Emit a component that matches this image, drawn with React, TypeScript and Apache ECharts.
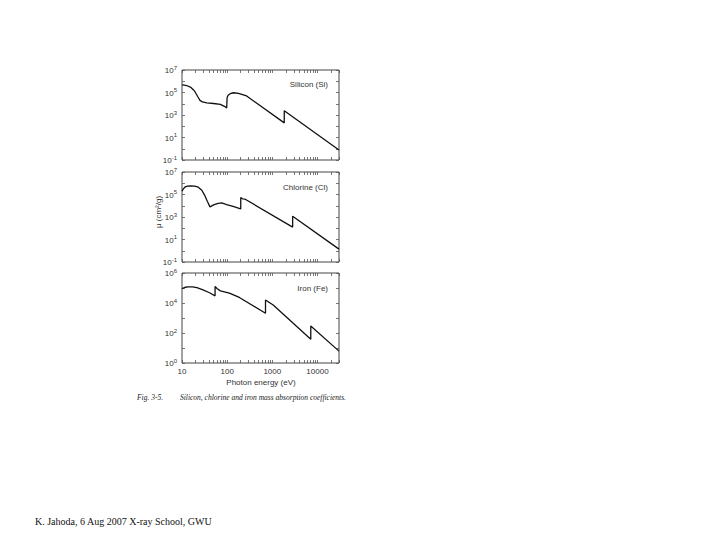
import { useEffect, useRef } from "react";
import * as echarts from "echarts";

// Photon energy (eV) and mass absorption coefficient (cm^2/g)
const SI_ENERGY = [10, 11.2, 12.6, 15.8, 17.8, 19.5, 22.4, 25, 28.2, 35.5, 50, 70.8, 89, 97.7, 99.8, 99.8, 105, 117, 138, 178, 270, 1839, 1839, 30000];
const SI_MU = [468000, 457000, 417000, 282000, 178000, 112000, 41700, 20000, 14800, 12000, 10500, 8700, 5600, 4200, 4000, 35500, 56000, 79000, 95000, 83000, 49000, 200, 2400, 0.78];

const CL_ENERGY = [10, 10.7, 11.7, 13.2, 15.1, 19.1, 22.9, 27.5, 31.6, 36.3, 41.7, 50.1, 63.1, 75.9, 97.7, 141, 191, 200, 200, 219, 251, 2822, 2822, 30000];
const CL_MU = [195000, 316000, 468000, 550000, 575000, 562000, 447000, 240000, 89000, 25000, 7900, 12000, 16600, 17800, 12900, 8300, 5600, 5200, 53700, 41700, 38000, 126, 1175, 1.4];

const FE_ENERGY = [10, 11.7, 13.8, 17, 21.4, 28.2, 39.8, 54, 54, 60.3, 70.8, 112, 186, 707, 707, 1047, 7112, 7112, 30000];
const FE_MU = [91000, 112000, 120000, 120000, 107000, 79000, 50000, 30000, 126000, 89000, 64600, 45700, 23400, 2090, 15800, 7400, 38, 288, 6.2];

const PANEL_TITLES = ["Silicon (Si)", "Chlorine (Cl)", "Iron (Fe)"];

const X_LABELS = [10, 100, 1000, 10000];
const X_TICKS = [10, 20, 30, 40, 50, 60, 70, 80, 90, 100, 200, 300, 400, 500, 600, 700, 800, 900, 1000, 2000, 3000, 4000, 5000, 6000, 7000, 8000, 9000, 10000, 20000, 30000];

const Y_RANGE_SICL = [0.1, 1e7];
const Y_LABELS_SICL = [0.1, 10, 1000, 1e5, 1e7];
const Y_TICKS_SICL = [0.1, 1, 10, 100, 1000, 1e4, 1e5, 1e6, 1e7];
const Y_RANGE_FE = [1, 1e6];
const Y_LABELS_FE = [1, 100, 1e4, 1e6];
const Y_TICKS_FE = [1, 10, 100, 1000, 1e4, 1e5, 1e6];

const X_NAME = "Photon energy (eV)";
const Y_NAME = "μ (cm²/g)";
const CAPTION_A = "Fig. 3-5.";
const CAPTION_B = "Silicon, chlorine and iron mass absorption coefficients.";
const FOOTER = "K. Jahoda, 6 Aug 2007 X-ray School, GWU";

const SANS = "'Liberation Sans', Arial, sans-serif";
const SERIF = "'Liberation Serif', 'Times New Roman', serif";

export default function App() {
  const ref = useRef<HTMLDivElement>(null);

  useEffect(() => {
    if (!ref.current) return;
    const chart = echarts.init(ref.current, undefined, { renderer: "svg" });

    const panels = [
      { e: SI_ENERGY, m: SI_MU, range: Y_RANGE_SICL, labels: Y_LABELS_SICL, ticks: Y_TICKS_SICL },
      { e: CL_ENERGY, m: CL_MU, range: Y_RANGE_SICL, labels: Y_LABELS_SICL, ticks: Y_TICKS_SICL },
      { e: FE_ENERGY, m: FE_MU, range: Y_RANGE_FE, labels: Y_LABELS_FE, ticks: Y_TICKS_FE },
    ];
    const tops = [70, 172, 273];
    const left = 182;
    const width = 157;
    const height = 90;

    const grid: any[] = [];
    const xAxis: any[] = [];
    const yAxis: any[] = [];
    const series: any[] = [];

    const tickStyle = { color: "#555", width: 0.8 };
    const supFmt = (v: number) => {
      const ex = Math.round(Math.log10(v));
      return `{b|10}{s|${ex}}`;
    };
    const rich = {
      b: { fontSize: 8, fontFamily: SANS, color: "#333", lineHeight: 9, verticalAlign: "bottom" },
      s: { fontSize: 6, fontFamily: SANS, color: "#333", lineHeight: 9, verticalAlign: "bottom", padding: [0, 0, 4, 0] },
    };

    panels.forEach((p, i) => {
      grid.push({ left, top: tops[i], width, height, show: true, borderColor: "#444", borderWidth: 1, backgroundColor: "transparent" });
      const xBase = {
        type: "log",
        gridIndex: i,
        min: 10,
        max: 30000,
        axisLine: { show: false },
        splitLine: { show: false },
        axisTick: { show: true, inside: true, length: 3, lineStyle: tickStyle, customValues: X_TICKS },
      };
      xAxis.push({
        ...xBase,
        position: "bottom",
        axisLabel: {
          show: i === 2,
          customValues: X_LABELS,
          fontSize: 8,
          fontFamily: SANS,
          color: "#333",
          margin: 4,
          formatter: (v: number) => String(v),
        },
      });
      xAxis.push({ ...xBase, position: "top", axisLabel: { show: false } });

      const yBase = {
        type: "log",
        gridIndex: i,
        min: p.range[0],
        max: p.range[1],
        axisLine: { show: false },
        splitLine: { show: false },
        axisTick: { show: true, inside: true, length: 3, lineStyle: tickStyle, customValues: p.ticks },
      };
      yAxis.push({
        ...yBase,
        position: "left",
        axisLabel: { show: true, customValues: p.labels, margin: 5, formatter: supFmt, rich },
      });
      yAxis.push({ ...yBase, position: "right", axisLabel: { show: false } });

      series.push({
        type: "line",
        xAxisIndex: 2 * i,
        yAxisIndex: 2 * i,
        data: p.e.map((e, k) => [e, p.m[k]]),
        showSymbol: false,
        smooth: false,
        lineStyle: { color: "#111", width: 1.3 },
        silent: true,
      });
    });

    const titleY = [84, 187, 288];
    const graphic: any[] = PANEL_TITLES.map((t, i) => ({
      type: "text",
      x: 328,
      y: titleY[i],
      style: { text: t, fontSize: 8, fontFamily: SANS, fill: "#333", align: "right", verticalAlign: "middle" },
    }));
    graphic.push(
      {
        type: "text",
        x: 158,
        y: 212,
        rotation: Math.PI / 2,
        style: { text: Y_NAME, fontSize: 8, fontFamily: SANS, fill: "#333", align: "center", verticalAlign: "middle" },
      },
      {
        type: "text",
        x: 261,
        y: 382,
        style: { text: X_NAME, fontSize: 8, fontFamily: SANS, fill: "#333", align: "center", verticalAlign: "middle" },
      },
      {
        type: "text",
        x: 137,
        y: 397,
        style: { text: CAPTION_A, fontSize: 7.5, fontFamily: SERIF, fontStyle: "italic", fill: "#222", align: "left", verticalAlign: "middle" },
      },
      {
        type: "text",
        x: 180,
        y: 397,
        style: { text: CAPTION_B, fontSize: 7.5, fontFamily: SERIF, fontStyle: "italic", fill: "#222", align: "left", verticalAlign: "middle" },
      },
      {
        type: "text",
        x: 35,
        y: 521,
        style: { text: FOOTER, fontSize: 10, fontFamily: SERIF, fill: "#111", align: "left", verticalAlign: "middle" },
      }
    );

    chart.setOption({
      animation: false,
      backgroundColor: "#fff",
      grid,
      xAxis,
      yAxis,
      series,
      graphic,
    });

    return () => chart.dispose();
  }, []);

  return (
    <div
      ref={ref}
      style={{ position: "fixed", left: 0, top: 0, width: 720, height: 540, background: "#fff" }}
    />
  );
}
